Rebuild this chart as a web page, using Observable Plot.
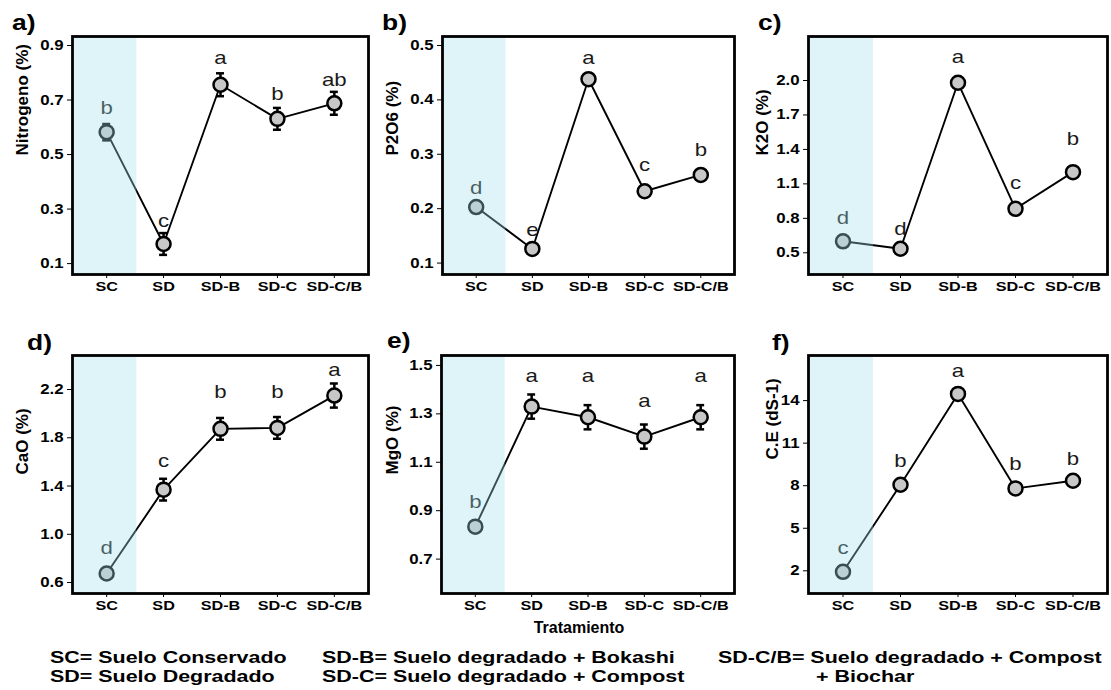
<!DOCTYPE html>
<html><head><meta charset="utf-8">
<script src="https://cdn.jsdelivr.net/npm/d3@7"></script>
<script src="https://cdn.jsdelivr.net/npm/@observablehq/plot@0.6"></script>
<style>
body{margin:0;background:#fff;}
#root{position:relative;width:1111px;height:690px;overflow:hidden;font-family:"Liberation Sans",Arial,sans-serif;background:#fff;}
.panel{position:absolute;}
.tag{position:absolute;font-weight:bold;font-size:22px;line-height:22px;transform:scaleX(1.2);transform-origin:left top;white-space:pre;}
.leg{position:absolute;font-weight:bold;font-size:16.5px;line-height:16.5px;transform:scaleX(1.3);transform-origin:left top;white-space:pre;}
</style></head><body><div id="root"></div>
<script>
// ---- data ----
const treatments = ["SC", "SD", "SD-B", "SD-C", "SD-C/B"];

const nitrogeno = [0.582, 0.172, 0.756, 0.631, 0.688];
const nitrogenoErr = [0.03, 0.04, 0.042, 0.04, 0.042];
const nitrogenoLetters = ["b", "c", "a", "b", "ab"];
const nitrogenoLetterY = [0.649, 0.233, 0.833, 0.701, 0.750];
const nitrogenoTicks = [0.1, 0.3, 0.5, 0.7, 0.9];

const p2o6 = [0.203, 0.126, 0.438, 0.232, 0.262];
const p2o6Err = [0, 0, 0, 0, 0];
const p2o6Letters = ["d", "e", "a", "c", "b"];
const p2o6LetterY = [0.227, 0.149, 0.466, 0.270, 0.296];
const p2o6Ticks = [0.1, 0.2, 0.3, 0.4, 0.5];

const k2o = [0.60, 0.535, 1.98, 0.883, 1.202];
const k2oErr = [0, 0, 0, 0, 0];
const k2oLetters = ["d", "d", "a", "c", "b"];
const k2oLetterY = [0.747, 0.651, 2.151, 1.057, 1.44];
const k2oTicks = [0.5, 0.8, 1.1, 1.4, 1.7, 2.0];

const cao = [0.675, 1.37, 1.874, 1.882, 2.15];
const caoErr = [0.03, 0.09, 0.09, 0.09, 0.1];
const caoLetters = ["d", "c", "b", "b", "a"];
const caoLetterY = [0.836, 1.555, 2.132, 2.132, 2.308];
const caoTicks = [0.6, 1.0, 1.4, 1.8, 2.2];

const mgo = [0.834, 1.33, 1.286, 1.206, 1.286];
const mgoErr = [0.02, 0.05, 0.05, 0.05, 0.05];
const mgoLetters = ["b", "a", "a", "a", "a"];
const mgoLetterY = [0.913, 1.431, 1.431, 1.327, 1.431];
const mgoTicks = [0.7, 0.9, 1.1, 1.3, 1.5];

const ce = [1.93, 8.07, 14.47, 7.81, 8.35];
const ceErr = [0, 0, 0, 0, 0];
const ceLetters = ["c", "b", "a", "b", "b"];
const ceLetterY = [3.22, 9.29, 15.69, 9.11, 9.48];
const ceTicks = [2, 5, 8, 11, 14];

const panelTags = ["a)", "b)", "c)", "d)", "e)", "f)"];
const yTitles = ["Nitrogeno (%)", "P2O6 (%)", "K2O (%)", "CaO (%)", "MgO (%)", "C.E (dS-1)"];
const xTitle = "Tratamiento";
const legendLines = [
  "SC= Suelo Conservado", "SD= Suelo Degradado",
  "SD-B= Suelo degradado + Bokashi", "SD-C= Suelo degradado + Compost",
  "SD-C/B= Suelo degradado + Compost", "+ Biochar"
];

// ---- layout ----
const FONT = '"Liberation Sans", Arial, sans-serif';
const STRETCH = 1.2;
const series = [
  {v: nitrogeno, e: nitrogenoErr, l: nitrogenoLetters, ly: nitrogenoLetterY, ticks: nitrogenoTicks, fmt: ".1f", domain: [0.06, 0.933]},
  {v: p2o6, e: p2o6Err, l: p2o6Letters, ly: p2o6LetterY, ticks: p2o6Ticks, fmt: ".1f", domain: [0.079, 0.5165]},
  {v: k2o, e: k2oErr, l: k2oLetters, ly: k2oLetterY, ticks: k2oTicks, fmt: ".1f", domain: [0.311, 2.383]},
  {v: cao, e: caoErr, l: caoLetters, ly: caoLetterY, ticks: caoTicks, fmt: ".1f", domain: [0.509, 2.482]},
  {v: mgo, e: mgoErr, l: mgoLetters, ly: mgoLetterY, ticks: mgoTicks, fmt: ".1f", domain: [0.558, 1.541]},
  {v: ce, e: ceErr, l: ceLetters, ly: ceLetterY, ticks: ceTicks, fmt: "d", domain: [0.4, 17.18]}
];
const layout = [
  {left: 0,   top: 0,   w: 370, h: 300, mL: 72, mR: 2, mT: 36, mB: 26, tOff: 50, tDy: 0,   tag: [12, 12]},
  {left: 370, top: 0,   w: 370, h: 300, mL: 72, mR: 6, mT: 36, mB: 26, tOff: 50, tDy: 0,   tag: [382, 12]},
  {left: 740, top: 0,   w: 371, h: 300, mL: 68, mR: 4, mT: 36, mB: 26, tOff: 46, tDy: 0,   tag: [758, 12]},
  {left: 0,   top: 310, w: 370, h: 310, mL: 72, mR: 2, mT: 45, mB: 27, tOff: 50, tDy: 0,   tag: [27, 332]},
  {left: 370, top: 310, w: 370, h: 330, mL: 71, mR: 6, mT: 45, mB: 47, tOff: 49, tDy: 0,   tag: [387, 330]},
  {left: 740, top: 310, w: 371, h: 310, mL: 68, mR: 4, mT: 45, mB: 27, tOff: 36, tDy: -15, tag: [772, 332]}
];
const legendPos = [[50, 649], [50, 668], [322, 649], [322, 668], [718, 649], [816, 668]];

const root = document.getElementById("root");
const X0 = 0.4, X1 = 5.6, SHADE_END = 1.53;

series.forEach((s, k) => {
  const L = layout[k];
  const rows = treatments.map((t, i) => ({x: i + 1, t, v: s.v[i], e: s.e[i], letter: s.l[i], ly: s.ly[i]}));
  const withErr = rows.filter(d => d.e > 0);
  const marks = [
    Plot.axisX({ticks: [1, 2, 3, 4, 5], tickFormat: i => treatments[i - 1], tickSize: 4, tickPadding: 3,
      fontSize: 13.5, fontWeight: "bold", label: null}),
    Plot.axisY({ticks: s.ticks, tickFormat: d3.format(s.fmt), tickSize: 5, tickPadding: 4,
      fontSize: 14, fontWeight: "bold", label: null}),
    Plot.line(rows, {x: "x", y: "v", stroke: "black", strokeWidth: 1.9}),
    Plot.ruleX(withErr, {x: "x", y1: d => d.v - d.e, y2: d => d.v + d.e, stroke: "black", strokeWidth: 2.5}),
    Plot.ruleY(withErr, {y: d => d.v - d.e, x1: d => d.x - 0.07, x2: d => d.x + 0.07, stroke: "black", strokeWidth: 2.5}),
    Plot.ruleY(withErr, {y: d => d.v + d.e, x1: d => d.x - 0.07, x2: d => d.x + 0.07, stroke: "black", strokeWidth: 2.5}),
    Plot.dot(rows, {x: "x", y: "v", r: 7, fill: "#c8c8c8", stroke: "black", strokeWidth: 2.5}),
    Plot.text(rows, {x: "x", y: "ly", text: "letter", lineAnchor: "bottom", fontSize: 18.5, fill: "#1a1a1a"}),
    Plot.rect([0], {x1: X0, x2: SHADE_END, y1: s.domain[0], y2: s.domain[1], fill: "#a1e0eb", fillOpacity: 0.35}),
    Plot.frame({stroke: "black", strokeWidth: 2.8}),
    Plot.text([yTitles[k]], {frameAnchor: "left", dx: -L.tOff, dy: L.tDy, rotate: -90, fontSize: 17, fontWeight: "bold", fill: "black"})
  ];
  if (k === 4) {
    marks.push(Plot.text([xTitle], {frameAnchor: "bottom", dy: 34, dx: -9, fontSize: 16, fontWeight: "bold", fill: "black", lineAnchor: "middle"}));
  }
  const svg = Plot.plot({
    width: L.w, height: L.h,
    marginLeft: L.mL, marginRight: L.mR, marginTop: L.mT, marginBottom: L.mB,
    style: {fontFamily: FONT, background: "transparent", overflow: "visible", color: "black"},
    x: {type: "linear", domain: [X0, X1]},
    y: {domain: s.domain},
    marks
  });
  svg.classList.add("panel");
  svg.style.left = L.left + "px";
  svg.style.top = L.top + "px";
  root.appendChild(svg);
  // horizontal stretch of the original raster's text
  svg.querySelectorAll("text").forEach(t => {
    const tr = t.getAttribute("transform") || "";
    if (tr.includes("rotate")) return;
    if (t.textContent === xTitle) return;
    const len = t.getComputedTextLength();
    if (len > 0) {
      t.setAttribute("textLength", (len * STRETCH).toFixed(2));
      t.setAttribute("lengthAdjust", "spacingAndGlyphs");
    }
  });

  const tag = document.createElement("div");
  tag.className = "tag";
  tag.textContent = panelTags[k];
  tag.style.left = L.tag[0] + "px";
  tag.style.top = L.tag[1] + "px";
  root.appendChild(tag);
});

legendLines.forEach((txt, i) => {
  const d = document.createElement("div");
  d.className = "leg";
  d.textContent = txt;
  d.style.left = legendPos[i][0] + "px";
  d.style.top = legendPos[i][1] + "px";
  root.appendChild(d);
});
</script>
</body></html>
